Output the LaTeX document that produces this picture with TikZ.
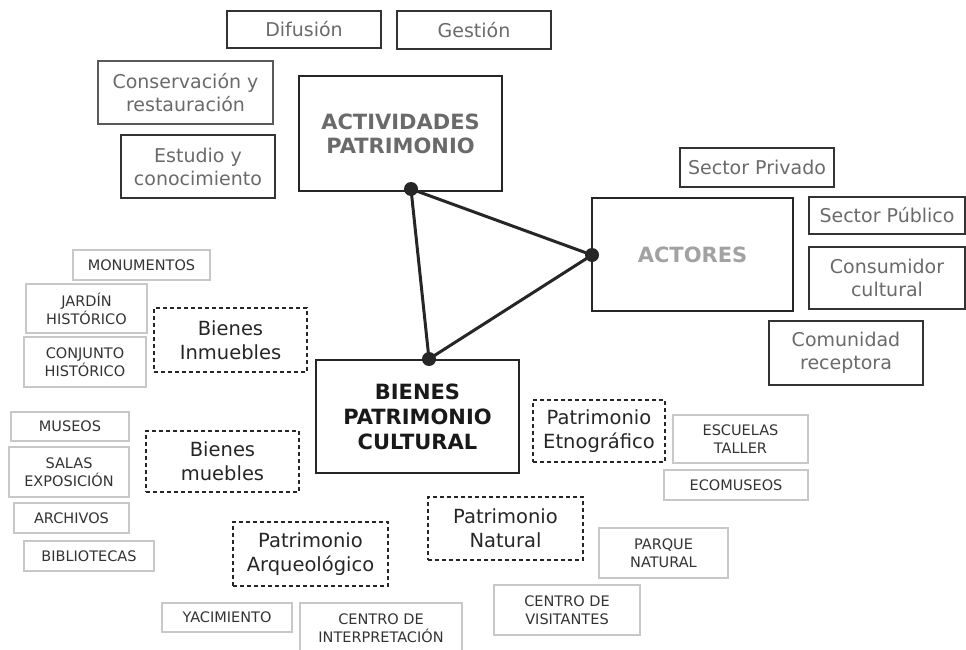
\documentclass[tikz,border=0pt]{standalone}
\usepackage{fontspec}
\setmainfont{DejaVu Sans}
\usepackage{tikz}
\definecolor{txtgray}{HTML}{6A6A6A}
\definecolor{lightgray}{HTML}{A2A2A2}
\definecolor{itemline}{HTML}{C8C8C8}
\definecolor{itemtxt}{HTML}{333333}

\begin{document}
\begin{tikzpicture}[x=1pt,y=-1pt,
    bigbox/.style={draw=black!80,line width=1.2pt,inner sep=0pt,align=center,text=txtgray,
        font=\fontsize{19}{23}\selectfont},
    hubbox/.style={draw=black!85,line width=1.6pt,inner sep=0pt,align=center,
        font=\bfseries\fontsize{21}{24}\selectfont},
    dashbox/.style={draw=black!85,line width=1.3pt,dash pattern=on 4pt off 3pt,inner sep=0pt,
        align=center,text=black!85,font=\fontsize{19.5}{24}\selectfont},
    itembox/.style={draw=itemline,line width=1.2pt,inner sep=0pt,align=center,text=itemtxt,
        font=\fontsize{14.5}{18}\selectfont},
    dot/.style={circle,fill=black!85,inner sep=0pt,minimum size=14pt},
    tri/.style={line width=3pt,black!85}]
    \useasboundingbox (0,0) rectangle (966,650);

    % actividades
    \node[hubbox,text=txtgray,minimum width=203pt,minimum height=115pt] (act) at (400.5,133.5) {ACTIVIDADES\\PATRIMONIO};
    \node[bigbox,minimum width=154pt,minimum height=37pt] (dif) at (304,29.5) {Difusión};
    \node[bigbox,minimum width=154pt,minimum height=38pt] (ges) at (474,30) {Gestión};
    \node[bigbox,draw=black!65,minimum width=175pt,minimum height=63pt] (cons) at (185.5,92.5) {Conservación y\\restauración};
    \node[bigbox,minimum width=154pt,minimum height=63pt] (est) at (198,166.5) {Estudio y\\conocimiento};

    % actores
    \node[hubbox,text=lightgray,minimum width=201pt,minimum height=113pt] (acto) at (692.5,254.5) {ACTORES};
    \node[bigbox,minimum width=154pt,minimum height=39pt] (priv) at (757,167.5) {Sector Privado};
    \node[bigbox,minimum width=156pt,minimum height=37pt] (pub) at (887,215.5) {Sector Público};
    \node[bigbox,minimum width=156pt,minimum height=62pt] (cons2) at (887,278) {Consumidor\\cultural};
    \node[bigbox,minimum width=154pt,minimum height=64pt] (com) at (846,353) {Comunidad\\receptora};

    % bienes
    \node[hubbox,text=black!90,font=\bfseries\fontsize{21}{25}\selectfont,minimum width=203pt,minimum height=113pt] (bien) at (417.5,416.5) {BIENES\\PATRIMONIO\\CULTURAL};

    \node[dashbox,minimum width=153pt,minimum height=64pt] (inm) at (230.5,340) {Bienes\\Inmuebles};
    \node[itembox,minimum width=137pt,minimum height=30pt] (mon) at (141.5,265) {MONUMENTOS};
    \node[itembox,minimum width=121pt,minimum height=49pt] (jar) at (86.5,308.5) {JARDÍN\\HISTÓRICO};
    \node[itembox,minimum width=122pt,minimum height=50pt] (conj) at (85,362) {CONJUNTO\\HISTÓRICO};

    \node[dashbox,minimum width=153pt,minimum height=61pt] (mue) at (222.5,461.5) {Bienes\\muebles};
    \node[itembox,minimum width=118pt,minimum height=29pt] (mus) at (70,426.5) {MUSEOS};
    \node[itembox,minimum width=120pt,minimum height=50pt] (sal) at (69,472) {SALAS\\EXPOSICIÓN};
    \node[itembox,minimum width=115pt,minimum height=30pt] (arc) at (71.5,518) {ARCHIVOS};
    \node[itembox,minimum width=130pt,minimum height=30pt] (bib) at (89,556) {BIBLIOTECAS};

    \node[dashbox,minimum width=132pt,minimum height=62pt] (etn) at (599,431) {Patrimonio\\Etnográfico};
    \node[itembox,minimum width=135pt,minimum height=48pt] (esc) at (740.5,439) {ESCUELAS\\TALLER};
    \node[itembox,minimum width=144pt,minimum height=30pt] (eco) at (736,485) {ECOMUSEOS};

    \node[dashbox,minimum width=155pt,minimum height=63pt] (nat) at (505.5,528.5) {Patrimonio\\Natural};
    \node[itembox,minimum width=129pt,minimum height=50pt] (par) at (663.5,553) {PARQUE\\NATURAL};
    \node[itembox,minimum width=146pt,minimum height=50pt] (vis) at (567,610) {CENTRO DE\\VISITANTES};

    \node[dashbox,minimum width=155pt,minimum height=64pt] (arq) at (310.5,554) {Patrimonio\\Arqueológico};
    \node[itembox,minimum width=130pt,minimum height=29pt] (yac) at (227,617.5) {YACIMIENTO};
    \node[itembox,minimum width=162pt,minimum height=50pt] (int) at (381,628) {CENTRO DE\\INTERPRETACIÓN};

    % triangulo
    \node[dot] (da) at (411,189) {};
    \node[dot] (db) at (592,255) {};
    \node[dot] (dc) at (429,359) {};
    \draw[tri] (da.center) -- (db.center) -- (dc.center) -- (da.center);
\end{tikzpicture}
\end{document}
